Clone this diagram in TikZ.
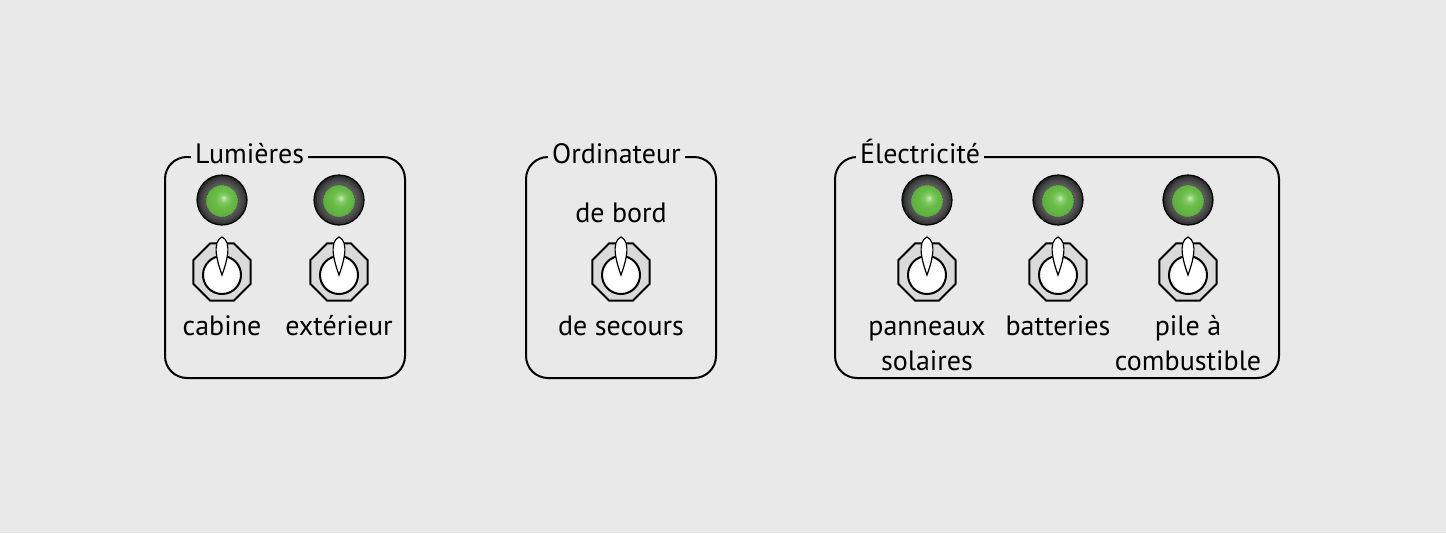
\documentclass[tikz,border=0pt]{standalone}
\usepackage{fontspec}
\setmainfont{PT Sans}
\usetikzlibrary{shapes.geometric}

\definecolor{panelbg}{RGB}{233,233,233}
\definecolor{ledgreen}{RGB}{104,190,70}
\definecolor{ledhi}{RGB}{200,238,185}
\definecolor{plategray}{RGB}{218,218,218}

\pgfdeclareradialshading{ledglow}{\pgfpoint{3bp}{5bp}}{color(0bp)=(ledhi); color(6bp)=(ledgreen!80!white); color(13bp)=(ledgreen); color(25bp)=(ledgreen!92!black); color(50bp)=(ledgreen!92!black)}
\pgfdeclareradialshading{ledbezel}{\pgfpoint{0bp}{0bp}}{color(0bp)=(black!62); color(16bp)=(black!64); color(22bp)=(black!76); color(25bp)=(black!88); color(50bp)=(black)}

\tikzset{
  panel/.style={draw=black,line width=2pt,rounded corners=22pt},
  heading/.style={fill=panelbg,inner xsep=4pt,inner ysep=2pt,anchor=base west},
  switchtext/.style={align=center,anchor=base,inner sep=0pt},
  bezel/.style={circle,minimum size=50pt,inner sep=0pt,draw=black,line width=1.2pt,shading=ledbezel},
  lamp/.style={circle,minimum size=32pt,inner sep=0pt,draw=black!75,densely dotted,line width=0.6pt,shading=ledglow},
  plate/.style={regular polygon,regular polygon sides=8,minimum size=62pt,inner sep=0pt,draw=black,line width=2pt,fill=plategray},
  knob/.style={circle,minimum size=38pt,inner sep=0pt,draw=black,line width=2pt,fill=white},
  lever/.style={draw=black,line width=1.2pt,fill=white},
  led/.pic={
    \node[bezel] (-bezel) at (0,0) {};
    \node[lamp] (-lamp) at (0,1) {};
  },
  toggle/.pic={
    \node[plate] (-plate) at (0,0) {};
    \node[knob] (-knob) at (0,3) {};
    \draw[lever] (0,3) .. controls (-4,-8) and (-11,-30) .. (0,-35)
      .. controls (11,-30) and (4,-8) .. (0,3) -- cycle;
  }
}

\begin{document}
\begin{tikzpicture}[x=1pt,y=-1pt,font=\fontsize{28pt}{35pt}\selectfont]
      \fill[panelbg] (0,0) rectangle (1446,533);
      \useasboundingbox (0,0) rectangle (1446,533);

      % Lumieres
      \draw[panel] (165,157) rectangle (405,378);
      \node[heading] (hLum) at (191,163) {Lumières};
      \pic (ledCab) at (222,200) {led};
      \pic (ledExt) at (339,200) {led};
      \pic (swCab) at (222,272) {toggle};
      \pic (swExt) at (339,272) {toggle};
      \node[switchtext] (tCab) at (222,335) {cabine};
      \node[switchtext] (tExt) at (339,335) {extérieur};

      % Ordinateur
      \draw[panel] (526,157) rectangle (716,378);
      \node[heading] (hOrd) at (548,163) {Ordinateur};
      \node[switchtext] (tBord) at (621,222) {de bord};
      \pic (swOrd) at (621,272) {toggle};
      \node[switchtext] (tSec) at (621,335) {de secours};

      % Electricite (base = last line)
      \draw[panel] (835,157) rectangle (1279,378);
      \node[heading] (hElec) at (856,163) {Électricité};
      \pic (ledSol) at (927,200) {led};
      \pic (ledBat) at (1058,200) {led};
      \pic (ledPile) at (1188,200) {led};
      \pic (swSol) at (927,272) {toggle};
      \pic (swBat) at (1058,272) {toggle};
      \pic (swPile) at (1188,272) {toggle};
      \node[switchtext] (tSol) at (927,370) {panneaux\\solaires};
      \node[switchtext] (tBat) at (1058,335) {batteries};
      \node[switchtext] (tPile) at (1188,370) {pile à\\combustible};
    \end{tikzpicture}
\end{document}
